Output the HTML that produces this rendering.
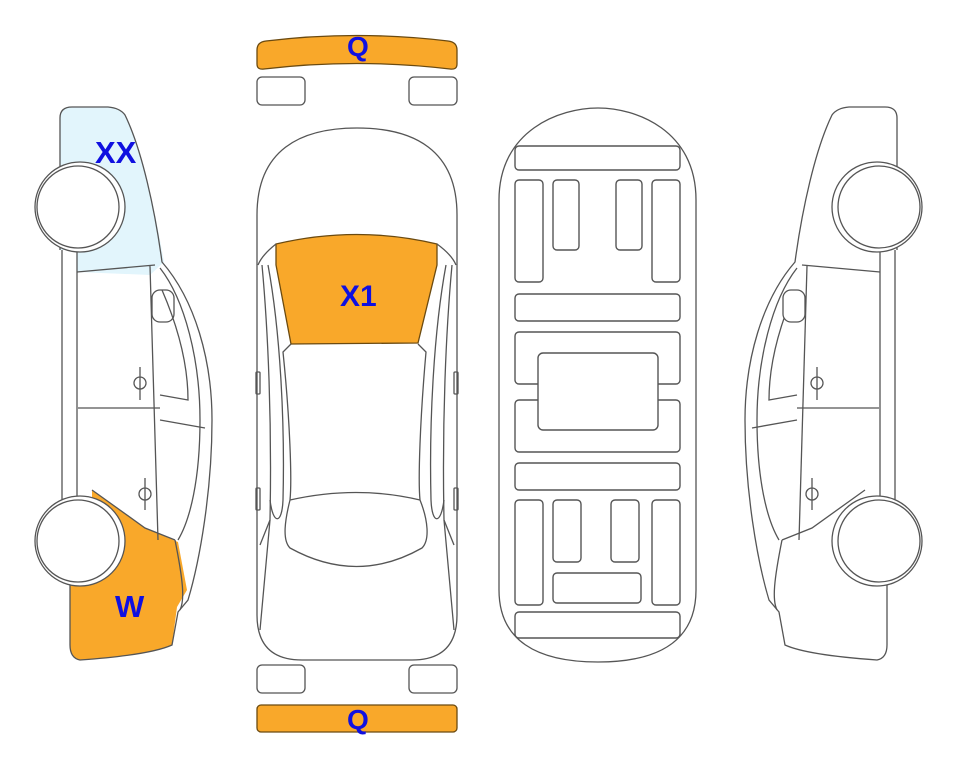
<!DOCTYPE html>
<html><head><meta charset="utf-8"><style>
html,body{margin:0;padding:0;background:#fff;width:963px;height:768px;overflow:hidden}
svg{display:block}
text{font-family:"Liberation Sans",sans-serif;font-weight:bold;fill:#1010e0}
</style></head><body>
<svg width="963" height="768" viewBox="0 0 963 768" fill="none" stroke="#555" stroke-width="1.3">
<defs>
<g id="side">
  <path d="M60,118 Q60,107 72,107 L108,107 Q120,108 125,115 C142,150 155,210 162,262 C195,300 212,360 212,420 C212,490 200,560 188,600 L178,612 L172,645 Q150,655 80,660 Q70,658 70,645 L70,585" fill="#fff"/>
  <path d="M62,250 L62,505 M77,250 L77,505 M62,505 L92,505"/>
  <path d="M77,272 L155,265"/>
  <path d="M78,408 L160,408"/>
  <path d="M150,266 L158,540"/>
  <path d="M92,490 L145,528 L175,540"/>
  <path d="M160,268 C185,300 200,360 200,420 C200,480 190,520 178,540"/>
  <path d="M162,290 C175,320 188,360 188,400 L160,395 M160,420 L205,428"/>
  <path d="M175,540 C183,580 185,600 180,610"/>
  <rect x="152" y="290" width="22" height="32" rx="8" fill="#fff"/>
  <path d="M140,367 L140,400 M134,383 a6,6 0 1,0 12,0 a6,6 0 1,0 -12,0"/>
  <path d="M145,478 L145,510 M139,494 a6,6 0 1,0 12,0 a6,6 0 1,0 -12,0"/>
</g>
</defs>

<path d="M60,118 Q60,107 72,107 L108,107 Q120,108 125,115 C142,150 155,210 164,262 L150,275 L77,272 L77,250 L60,250 Z" fill="#e2f5fc" stroke="none"/>
<path d="M92,490 L145,528 L178,542 L187,590 L177,607 L172,645 Q150,655 80,660 Q70,658 70,645 L70,580 L92,505 Z" fill="#f9a82a" stroke="none"/>
<g>
  <path d="M60,118 Q60,107 72,107 L108,107 Q120,108 125,115 C142,150 155,210 162,262 C195,300 212,360 212,420 C212,490 200,560 188,600 L178,612 L172,645 Q150,655 80,660 Q70,658 70,645 L70,585"/>
  <path d="M62,250 L62,505 M77,250 L77,505 M62,505 L92,505 M60,118 L60,250"/>
  <path d="M77,272 L155,265 M78,408 L160,408 M150,266 L158,540 M92,490 L145,528 L175,540"/>
  <path d="M160,268 C185,300 200,360 200,420 C200,480 190,520 178,540"/>
  <path d="M162,290 C175,320 188,360 188,400 L160,395 M160,420 L205,428 M175,540 C183,580 185,600 180,610"/>
  <rect x="152" y="290" width="22" height="32" rx="8"/>
  <path d="M140,367 L140,400 M134,383 a6,6 0 1,0 12,0 a6,6 0 1,0 -12,0"/>
  <path d="M145,478 L145,510 M139,494 a6,6 0 1,0 12,0 a6,6 0 1,0 -12,0"/>
</g>
<circle cx="80" cy="207" r="45" fill="#fff"/><circle cx="78" cy="207" r="41" fill="#fff"/>
<circle cx="80" cy="541" r="45" fill="#fff"/><circle cx="78" cy="541" r="41" fill="#fff"/>
<text x="95" y="163" font-size="31" stroke="none">XX</text>
<text x="115" y="617" font-size="31" stroke="none">W</text>

<g transform="translate(957,0) scale(-1,1)">
  <use href="#side"/>
  <path d="M60,118 L60,250"/>
  <circle cx="80" cy="207" r="45" fill="#fff"/><circle cx="78" cy="207" r="41" fill="#fff"/>
  <circle cx="80" cy="541" r="45" fill="#fff"/><circle cx="78" cy="541" r="41" fill="#fff"/>
</g>

<path d="M257,50 Q257,42 266,41 Q357,30 448,41 Q457,42 457,50 L457,64 Q457,70 450,69 Q357,58 264,69 Q257,70 257,64 Z" fill="#f9a82a" stroke="#6b4a10"/>
<text x="347" y="56" font-size="28" stroke="none">Q</text>
<rect x="257" y="77" width="48" height="28" rx="5"/><rect x="409" y="77" width="48" height="28" rx="5"/>
<rect x="257" y="665" width="48" height="28" rx="5"/><rect x="409" y="665" width="48" height="28" rx="5"/>
<rect x="257" y="705" width="200" height="27" rx="4" fill="#f9a82a" stroke="#6b4a10"/>
<text x="347" y="729" font-size="28" stroke="none">Q</text>

<path d="M257,215 C257,150 300,128 357,128 C414,128 457,150 457,215 L457,615 Q457,660 412,660 L302,660 Q257,660 257,615 Z"/>
<path d="M276,244 Q357,225 437,244 L437,265 L418,343 L291,344 L276,265 Z" fill="#f9a82a" stroke="#6b4a10"/>
<text x="340" y="306" font-size="30" stroke="none">X1</text>
<path d="M258,265 Q262,255 276,244 M456,265 Q452,255 437,244"/>
<path d="M291,344 L283,352 C290,420 292,480 290,500 M418,344 L426,352 C420,420 418,480 420,500"/>
<path d="M290,500 Q357,485 420,500 M290,500 C285,520 282,540 290,548 Q357,585 422,548 C430,540 428,520 420,500"/>
<path d="M262,265 C268,330 272,420 270,520 L260,545 M452,265 C446,330 442,420 444,520 L454,545"/>
<path d="M268,265 C280,330 285,420 283,500 C282,525 273,525 270,500 M446,265 C434,330 429,420 431,500 C432,525 441,525 444,500"/>
<path d="M270,520 L260,630 M444,520 L454,630"/>
<rect x="256" y="372" width="4" height="22" rx="1"/><rect x="454" y="372" width="4" height="22" rx="1"/>
<rect x="256" y="488" width="4" height="22" rx="1"/><rect x="454" y="488" width="4" height="22" rx="1"/>

<path d="M499,200 C499,130 560,108 598,108 C636,108 696,130 696,200 L696,590 C696,640 660,662 598,662 C536,662 499,640 499,590 Z"/>
<g stroke-width="1.4">
<rect x="515" y="146" width="165" height="24" rx="4"/>
<rect x="515" y="180" width="28" height="102" rx="4"/><rect x="553" y="180" width="26" height="70" rx="4"/>
<rect x="616" y="180" width="26" height="70" rx="4"/><rect x="652" y="180" width="28" height="102" rx="4"/>
<rect x="515" y="294" width="165" height="27" rx="4"/>
<rect x="515" y="332" width="165" height="52" rx="4"/><rect x="515" y="400" width="165" height="52" rx="4"/>
<rect x="538" y="353" width="120" height="77" rx="5" fill="#fff"/>
<rect x="515" y="463" width="165" height="27" rx="4"/>
<rect x="515" y="500" width="28" height="105" rx="4"/><rect x="553" y="500" width="28" height="62" rx="4"/>
<rect x="611" y="500" width="28" height="62" rx="4"/><rect x="652" y="500" width="28" height="105" rx="4"/>
<rect x="553" y="573" width="88" height="30" rx="4"/>
<rect x="515" y="612" width="165" height="26" rx="4"/>
</g>
</svg>
</body></html>
